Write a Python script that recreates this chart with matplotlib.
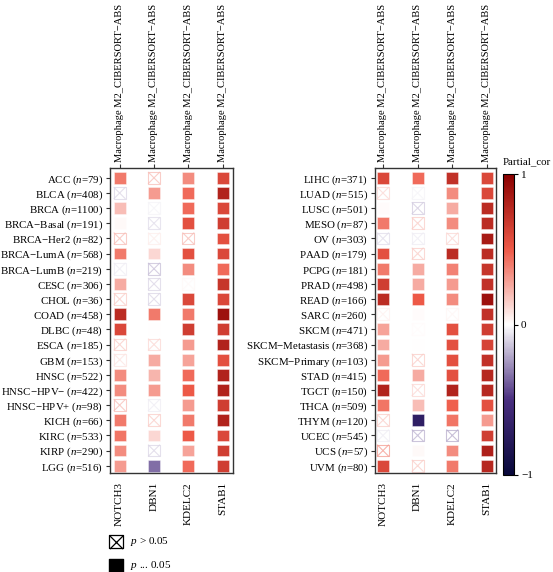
import numpy as np
import matplotlib
matplotlib.use("Agg")
import matplotlib.pyplot as plt
from matplotlib.colors import LinearSegmentedColormap, Normalize
from matplotlib.cm import ScalarMappable

plt.rcParams['font.family'] = ['Liberation Serif', 'DejaVu Serif']
plt.rcParams['mathtext.fontset'] = 'custom'
plt.rcParams['mathtext.rm'] = 'Liberation Serif'
plt.rcParams['mathtext.it'] = 'Liberation Serif:italic'

FS_ROW = 7.8
FS_TOP = 7.6
FS = 8.0

# genes (columns) and cell type label on top
genes = ['NOTCH3', 'DBN1', 'KDELC2', 'STAB1']
top_label = 'Macrophage M2_CIBERSORT\u2212ABS'

# left panel
left_cancers = ['ACC', 'BLCA', 'BRCA', 'BRCA\u2212Basal', 'BRCA\u2212Her2', 'BRCA\u2212LumA',
                'BRCA\u2212LumB', 'CESC', 'CHOL', 'COAD', 'DLBC', 'ESCA', 'GBM', 'HNSC',
                'HNSC\u2212HPV\u2212', 'HNSC\u2212HPV+', 'KICH', 'KIRC', 'KIRP', 'LGG']
left_n = [79, 408, 1100, 191, 82, 568, 219, 306, 36, 458, 48, 185, 153, 522, 422, 98, 66, 533, 290, 516]
left_notch3 = [0.40, -0.10, 0.20, 0.02, 0.20, 0.40, -0.04, 0.25, 0.15, 0.75, 0.60, 0.15, 0.08, 0.35, 0.35, 0.20, 0.40, 0.42, 0.35, 0.30]
left_dbn1 = [0.20, 0.30, -0.03, -0.08, 0.05, 0.12, -0.15, -0.10, -0.10, 0.40, 0.00, 0.12, 0.25, 0.22, 0.30, -0.04, 0.15, 0.12, -0.10, -0.35]
left_kdelc2 = [0.35, 0.45, 0.45, 0.55, 0.20, 0.55, 0.35, 0.02, 0.60, 0.40, 0.65, 0.30, 0.28, 0.45, 0.50, 0.30, 0.40, 0.50, 0.28, 0.45]
left_stab1 = [0.60, 0.80, 0.60, 0.65, 0.55, 0.60, 0.45, 0.70, 0.60, 0.90, 0.65, 0.80, 0.55, 0.80, 0.80, 0.65, 0.80, 0.60, 0.65, 0.65]
# 1 = p > 0.05
left_ns_notch3 = [0, 1, 0, 0, 1, 0, 1, 0, 1, 0, 0, 1, 1, 0, 0, 1, 0, 0, 0, 0]
left_ns_dbn1 = [1, 0, 1, 1, 1, 0, 1, 1, 1, 0, 0, 1, 0, 0, 0, 1, 1, 0, 1, 0]
left_ns_kdelc2 = [0, 0, 0, 0, 1, 0, 0, 1, 0, 0, 0, 0, 0, 0, 0, 0, 0, 0, 0, 0]
left_ns_stab1 = [0] * 20

# right panel
right_cancers = ['LIHC', 'LUAD', 'LUSC', 'MESO', 'OV', 'PAAD', 'PCPG', 'PRAD', 'READ', 'SARC',
                 'SKCM', 'SKCM\u2212Metastasis', 'SKCM\u2212Primary', 'STAD', 'TGCT', 'THCA',
                 'THYM', 'UCEC', 'UCS', 'UVM']
right_n = [371, 515, 501, 87, 303, 179, 181, 498, 166, 260, 471, 368, 103, 415, 150, 509, 120, 545, 57, 80]
right_notch3 = [0.60, 0.12, 0.01, 0.40, -0.08, 0.55, 0.40, 0.65, 0.75, 0.04, 0.28, 0.25, 0.30, 0.45, 0.80, 0.42, 0.15, -0.04, 0.30, 0.60]
right_dbn1 = [0.45, -0.03, -0.12, 0.15, -0.04, 0.15, 0.25, 0.25, 0.50, 0.01, 0.01, 0.00, 0.15, 0.25, 0.12, 0.20, -0.70, -0.18, 0.02, 0.15]
right_kdelc2 = [0.72, 0.35, 0.25, 0.35, 0.12, 0.75, 0.38, 0.30, 0.35, 0.03, 0.55, 0.55, 0.55, 0.55, 0.80, 0.48, 0.42, -0.20, 0.35, 0.40]
right_stab1 = [0.60, 0.60, 0.75, 0.75, 0.85, 0.75, 0.70, 0.72, 0.90, 0.72, 0.65, 0.62, 0.72, 0.78, 0.78, 0.55, 0.30, 0.65, 0.82, 0.78]
right_ns_notch3 = [0, 1, 0, 0, 1, 0, 0, 0, 0, 1, 0, 0, 0, 0, 0, 0, 1, 1, 1, 0]
right_ns_dbn1 = [0, 1, 1, 1, 1, 1, 0, 0, 0, 0, 1, 0, 1, 0, 1, 0, 0, 1, 0, 1]
right_ns_kdelc2 = [0, 0, 0, 0, 1, 0, 0, 0, 0, 1, 0, 0, 0, 0, 0, 0, 0, 1, 0, 0]
right_ns_stab1 = [0] * 20

cmap = LinearSegmentedColormap.from_list(
    'pc', [(0.0, '#08083a'), (0.25, '#4a2f80'), (0.5, '#ffffff'), (0.75, '#ee5a48'), (1.0, '#8a0000')])
norm = Normalize(-1, 1)

W, H = 553, 572
fig = plt.figure(figsize=(W / 100, H / 100), dpi=100)


def px_axes(x0, y0, x1, y1):
    return fig.add_axes([x0 / W, 1 - y1 / H, (x1 - x0) / W, (y1 - y0) / H])


def draw_panel(ax, cancers, ns, vals, nonsig, xlim):
    rows = np.arange(len(cancers))
    for j, (v, f) in enumerate(zip(vals, nonsig)):
        v = np.array(v)
        f = np.array(f, dtype=bool)
        cols = cmap(norm(v))
        xs = np.full(len(v), j)
        # significant: filled squares
        ax.scatter(xs[~f], rows[~f], marker='s', s=72, c=cols[~f],
                   edgecolors=(1, 1, 1, 0.45), linewidths=0.6, zorder=2)
        # not significant: outlined square with a cross
        c_ns = cols[f].copy()
        c_ns[:, 3] = 0.75
        ax.scatter(xs[f], rows[f], marker='s', s=72, facecolors='none',
                   edgecolors=c_ns, linewidths=0.8, zorder=2)
        ax.scatter(xs[f], rows[f], marker='x', s=72, c=c_ns, linewidths=0.8, zorder=2)
    ax.set_xlim(*xlim)
    ax.set_ylim(19.48, -0.65)
    ax.set_yticks(rows, [f'{c} ($n$={n})' for c, n in zip(cancers, ns)], fontsize=FS_ROW)
    ax.set_xticks(range(len(genes)), genes, rotation=90, fontsize=FS)
    ax.tick_params(axis='x', bottom=False, pad=3)
    ax.tick_params(axis='y', length=3, width=0.8, pad=2, colors='#333333', labelcolor='black')
    for s in ax.spines.values():
        s.set_color('#333333')
        s.set_linewidth(1.0)
    sec = ax.secondary_xaxis('top')
    sec.set_xticks(range(len(genes)), [top_label] * len(genes), rotation=90, fontsize=FS_TOP)
    sec.tick_params(length=3, width=0.8, pad=1, colors='#333333', labelcolor='black')
    sec.spines['top'].set_visible(False)


ax1 = px_axes(110, 168, 233, 473)
draw_panel(ax1, left_cancers, left_n,
           [left_notch3, left_dbn1, left_kdelc2, left_stab1],
           [left_ns_notch3, left_ns_dbn1, left_ns_kdelc2, left_ns_stab1], (-0.28, 3.3))

ax2 = px_axes(375, 168, 496, 473)
draw_panel(ax2, right_cancers, right_n,
           [right_notch3, right_dbn1, right_kdelc2, right_stab1],
           [right_ns_notch3, right_ns_dbn1, right_ns_kdelc2, right_ns_stab1], (-0.23, 3.26))

# colorbar
cax = px_axes(503, 174, 514, 475)
cb = fig.colorbar(ScalarMappable(norm=norm, cmap=cmap), cax=cax, ticks=[-1, 0, 1])
cb.ax.set_yticklabels(['\u22121', '0', '1'], fontsize=FS)
cb.ax.tick_params(length=3, width=0.8, pad=2)
cb.outline.set_linewidth(0.8)
cax.text(0, 1.025, 'Partial_cor', transform=cax.transAxes, ha='left', va='bottom', fontsize=7.8)

# legend for p-values
lax = px_axes(100, 530, 260, 572)
lax.set_xlim(100, 260)
lax.set_ylim(572, 530)
lax.axis('off')
lax.scatter([116], [541.5], marker='s', s=90, facecolors='none', edgecolors='black', linewidths=0.9, clip_on=False)
lax.scatter([116], [541.5], marker='x', s=90, c='black', linewidths=0.9, clip_on=False)
lax.scatter([116], [566], marker='s', s=90, c='black', clip_on=False)
lax.text(130, 541.5, '$p$ > 0.05', va='center', ha='left', fontsize=FS)
lax.text(130, 566, '$p$ ... 0.05', va='center', ha='left', fontsize=FS)

fig.savefig('out.png', dpi=100)
